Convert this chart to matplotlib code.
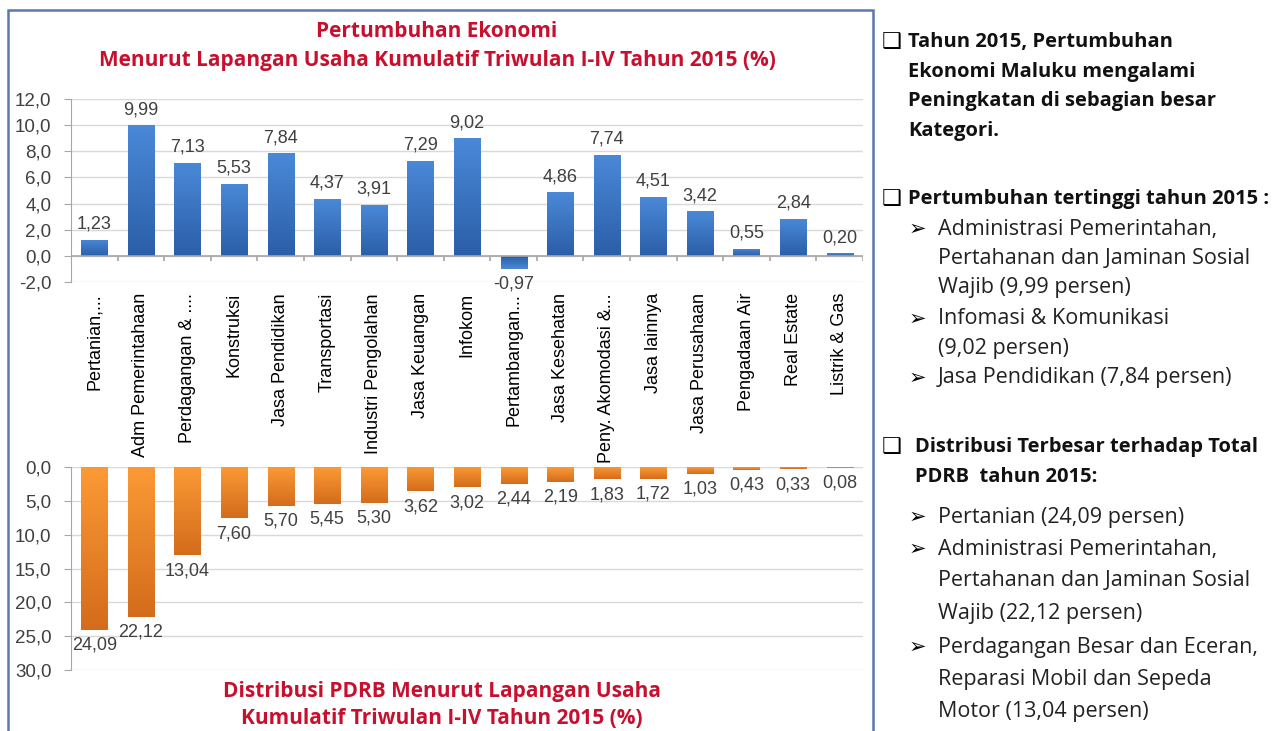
import matplotlib
matplotlib.use("Agg")
import matplotlib.pyplot as plt
import matplotlib.patches as mpatches
import matplotlib.colors as mcolors
import numpy as np

categories = ["Pertanian,...", "Adm Pemerintahaan", "Perdagangan & ....", "Konstruksi",
              "Jasa Pendidikan", "Transportasi", "Industri Pengolahan", "Jasa Keuangan",
              "Infokom", "Pertambangan...", "Jasa Kesehatan", "Peny. Akomodasi &...",
              "Jasa lainnya", "Jasa Perusahaan", "Pengadaan Air", "Real Estate", "Listrik & Gas"]
growth = [1.23, 9.99, 7.13, 5.53, 7.84, 4.37, 3.91, 7.29, 9.02, -0.97,
          4.86, 7.74, 4.51, 3.42, 0.55, 2.84, 0.20]
distribusi = [24.09, 22.12, 13.04, 7.60, 5.70, 5.45, 5.30, 3.62, 3.02, 2.44,
              2.19, 1.83, 1.72, 1.03, 0.43, 0.33, 0.08]
growth_ticks = [-2, 0, 2, 4, 6, 8, 10, 12]
dist_ticks = [0, 5, 10, 15, 20, 25, 30]

title_top = "Pertumbuhan Ekonomi\nMenurut Lapangan Usaha Kumulatif Triwulan I-IV Tahun 2015 (%)"
title_bottom = "Distribusi PDRB Menurut Lapangan Usaha\nKumulatif Triwulan I-IV Tahun 2015 (%)"

# right-hand notes: (kind, text, y pixel)
notes = [
    ("box", "Tahun 2015, Pertumbuhan", 42),
    ("boldcont", "Ekonomi Maluku mengalami", 72),
    ("boldcont", "Peningkatan di sebagian besar", 101),
    ("boldcont", "Kategori.", 131),
    ("box", "Pertumbuhan tertinggi tahun 2015 :", 199),
    ("arrow", "Administrasi Pemerintahan,", 229),
    ("cont", "Pertahanan dan Jaminan Sosial", 259),
    ("cont", "Wajib (9,99 persen)", 288),
    ("arrow", "Infomasi & Komunikasi", 319),
    ("cont", "(9,02 persen)", 348),
    ("arrow", "Jasa Pendidikan (7,84 persen)", 378),
    ("box2", "Distribusi Terbesar terhadap Total", 447),
    ("boldcont2", "PDRB  tahun 2015:", 477),
    ("arrow", "Pertanian (24,09 persen)", 517),
    ("arrow", "Administrasi Pemerintahan,", 549),
    ("cont", "Pertahanan dan Jaminan Sosial", 581),
    ("cont", "Wajib (22,12 persen)", 614),
    ("arrow", "Perdagangan Besar dan Eceran,", 647),
    ("cont", "Reparasi Mobil dan Sepeda", 680),
    ("cont", "Motor (13,04 persen)", 712),
]

W, H = 1287, 731
plt.rcParams['font.family'] = ['Liberation Sans', 'DejaVu Sans']
fig = plt.figure(figsize=(W / 100, H / 100), dpi=100)

grid_c = '#d9d9d9'
spine_c = '#a6a6a6'
txt_c = '#404040'
red = '#c8102e'
note_font = ['Open Sans', 'DejaVu Sans']


def px_axes(x0, y_top, x1, y_bot):
    return fig.add_axes([x0 / W, 1 - y_bot / H, (x1 - x0) / W, (y_bot - y_top) / H])


def gradient_bars(ax, bars, c_start, c_end):
    c0 = np.array(mcolors.to_rgb(c_start))
    c1 = np.array(mcolors.to_rgb(c_end))
    t = np.linspace(0, 1, 64)[:, None, None]
    grad = c0 * (1 - t) + c1 * t
    for b in bars:
        x0, y0, w, h = b.get_x(), b.get_y(), b.get_width(), b.get_height()
        b.set_facecolor('none')
        b.set_edgecolor('none')
        im = ax.imshow(grad, extent=(x0, x0 + w, y0, y0 + h), origin='lower',
                       aspect='auto', zorder=3, interpolation='bilinear')
        im.set_clip_path(b)


x = np.arange(len(categories))

# top chart: growth
ax1 = px_axes(71, 99, 863, 282)
bars1 = ax1.bar(x, growth, width=0.56, zorder=3)
gradient_bars(ax1, bars1, '#2b5ea8', '#4a89d8')
ax1.set_xlim(-0.5, len(categories) - 0.5)
ax1.set_ylim(-2, 12)
ax1.set_yticks(growth_ticks, [f"{v:.1f}".replace('.', ',') for v in growth_ticks])
ax1.set_xticks(x, categories, rotation=90)
ax1.tick_params(axis='x', length=0, pad=8, labelsize=13, labelcolor='black')
ax1.tick_params(axis='y', length=5, color=spine_c, labelsize=13.5, labelcolor=txt_c, pad=9)
ax1.grid(axis='y', color=grid_c, lw=1, zorder=0)
for s in ['top', 'right', 'bottom']:
    ax1.spines[s].set_visible(False)
ax1.spines['left'].set_color(spine_c)
ax1.axhline(0, color=spine_c, lw=1.2, zorder=4)
ax1.vlines(np.arange(-0.5, len(categories)), -0.4, 0, color=spine_c, lw=1.2, zorder=4)
for i, v in enumerate(growth):
    lab = f"{v:.2f}".replace('.', ',')
    if v >= 0:
        ax1.annotate(lab, (i, v), xytext=(0, 5), textcoords='offset points',
                     ha='center', va='bottom', fontsize=13, color=txt_c)
    else:
        ax1.annotate(lab, (i, v), xytext=(0, -5), textcoords='offset points',
                     ha='center', va='top', fontsize=13, color=txt_c)

# bottom chart: distribution
ax2 = px_axes(71, 467, 863, 670)
bars2 = ax2.bar(x, distribusi, width=0.56, zorder=3)
gradient_bars(ax2, bars2, '#fb9a35', '#d46c1c')
ax2.set_xlim(-0.5, len(categories) - 0.5)
ax2.set_ylim(30, 0)
ax2.set_yticks(dist_ticks, [f"{v:.1f}".replace('.', ',') for v in dist_ticks])
ax2.set_xticks([])
ax2.tick_params(axis='y', length=5, color=spine_c, labelsize=13.5, labelcolor=txt_c, pad=9)
ax2.grid(axis='y', color=grid_c, lw=1, zorder=0)
for s in ['top', 'right', 'bottom']:
    ax2.spines[s].set_visible(False)
ax2.spines['left'].set_color(spine_c)
for i, v in enumerate(distribusi):
    ax2.annotate(f"{v:.2f}".replace('.', ','), (i, v), xytext=(0, -5),
                 textcoords='offset points', ha='center', va='top',
                 fontsize=13, color=txt_c)

# titles
fig.text(437 / W, 1 - 46 / H, title_top, ha='center', va='center', color=red,
         fontsize=15, fontweight='bold', family=note_font, linespacing=1.45)
fig.text(442 / W, 1 - 705 / H, title_bottom, ha='center', va='center', color=red,
         fontsize=15, fontweight='bold', family=note_font, linespacing=1.35)

# panel border
fig.add_artist(mpatches.Rectangle((8 / W, -0.05), (873 - 8) / W, 1.05 - 10 / H,
                                  transform=fig.transFigure, fill=False,
                                  edgecolor='#5a78ad', lw=1.8))

# right-hand notes
for kind, text, y in notes:
    yy = 1 - y / H
    if kind in ("box", "box2"):
        fig.text(882 / W, yy, "\u2751", ha='left', va='center', fontsize=16,
                 color='black', family=['DejaVu Sans'])
        xt = 908 if kind == "box" else 915
        fig.text(xt / W, yy, text, ha='left', va='center', fontsize=14.5,
                 fontweight='bold', color='#111111', family=note_font)
    elif kind in ("boldcont", "boldcont2"):
        xt = 908 if kind == "boldcont" else 915
        fig.text(xt / W, yy, text, ha='left', va='center', fontsize=14.5,
                 fontweight='bold', color='#111111', family=note_font)
    elif kind == "arrow":
        fig.text(909 / W, yy, "\u27a2", ha='left', va='center', fontsize=15,
                 color='black', family=['DejaVu Sans'])
        fig.text(938 / W, yy, text, ha='left', va='center', fontsize=15.5,
                 color='#222222', family=note_font)
    else:
        fig.text(938 / W, yy, text, ha='left', va='center', fontsize=15.5,
                 color='#222222', family=note_font)

fig.savefig("out.png", dpi=100)
